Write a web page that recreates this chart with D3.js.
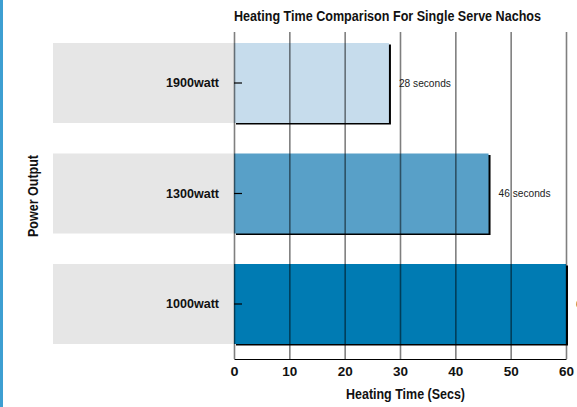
<!DOCTYPE html>
<html>
<head>
<meta charset="utf-8">
<script src="https://cdn.jsdelivr.net/npm/d3@7"></script>
<style>
  html, body { margin: 0; padding: 0; background: #fff; overflow: hidden; }
  svg { display: block; }
  text { font-family: "Liberation Sans Narrow", "Liberation Sans", Arial, sans-serif; }
</style>
</head>
<body>
<svg id="chart" width="577" height="407"></svg>
<script>
// ---- Data ----
const categories = ["1900watt", "1300watt", "1000watt"];
const seconds = [28, 46, 60];
const barColors = ["#c6dcec", "#58a0c8", "#007bb3"];
const valueLabels = ["28 seconds", "46 seconds", "60 seconds"];
const xTicks = [0, 10, 20, 30, 40, 50, 60];
const title = "Heating Time Comparison For Single Serve Nachos";
const xTitle = "Heating Time (Secs)";
const yTitle = "Power Output";

// ---- Layout ----
const W = 577, H = 407;
const plotLeft = 234, plotRight = 566;
const gridTop = 32, axisY = 359;
const bandLeft = 53;
const FONT = '"Liberation Sans Narrow", "Liberation Sans", Arial, sans-serif';

const svg = d3.select("#chart");

const x = d3.scaleLinear().domain([0, 60]).range([plotLeft, plotRight]);
const y = d3.scaleBand().domain(categories).range([43, 344]).paddingInner(0.276).paddingOuter(0);

// left accent strip
svg.append("rect").attr("x", 0).attr("y", 0).attr("width", 3).attr("height", H).attr("fill", "#3d9fd2");

// gray label bands
svg.append("g").selectAll("rect").data(categories).join("rect")
  .attr("x", bandLeft).attr("y", d => y(d))
  .attr("width", plotLeft - bandLeft).attr("height", y.bandwidth())
  .attr("fill", "#e6e6e6");

// bar shadows
svg.append("g").selectAll("rect").data(categories).join("rect")
  .attr("x", x(0) + 2).attr("y", d => y(d) + 1.5)
  .attr("width", (d, i) => x(seconds[i]) - x(0))
  .attr("height", y.bandwidth())
  .attr("fill", "#000");

// bars
svg.append("g").selectAll("rect").data(categories).join("rect")
  .attr("x", x(0)).attr("y", d => y(d))
  .attr("width", (d, i) => x(seconds[i]) - x(0))
  .attr("height", y.bandwidth())
  .attr("fill", (d, i) => barColors[i]);

// vertical gridlines (on top of bars)
const grid = svg.append("g").attr("transform", `translate(0,${axisY})`)
  .call(d3.axisBottom(x).tickValues(xTicks).tickSize(-(axisY - gridTop)).tickFormat(""));
grid.select(".domain").remove();
grid.selectAll(".tick line").attr("stroke", "#000").attr("stroke-opacity", 0.5).attr("stroke-width", 1.6);

// x axis line + labels
const xAxis = svg.append("g").attr("transform", `translate(0,${axisY})`)
  .call(d3.axisBottom(x).tickValues(xTicks).tickSize(0).tickPadding(8));
xAxis.select(".domain").attr("stroke", "#000").attr("stroke-width", 1.2);
xAxis.selectAll(".tick text")
  .attr("font-size", 13).attr("font-weight", "bold").attr("fill", "#111")
  .attr("textLength", d => d === 0 ? 8 : 15).attr("lengthAdjust", "spacingAndGlyphs")
  .style("font-family", FONT);

// y axis (ticks pointing right, labels left)
const yAxis = svg.append("g").attr("transform", `translate(${plotLeft},0)`)
  .call(d3.axisLeft(y).tickSizeInner(-8).tickSizeOuter(0).tickPadding(15));
yAxis.select(".domain").remove();
yAxis.selectAll(".tick line").attr("stroke", "#000").attr("stroke-width", 1.2);
yAxis.selectAll(".tick text")
  .attr("font-size", 13).attr("font-weight", "bold").attr("fill", "#111")
  .attr("textLength", 53).attr("lengthAdjust", "spacingAndGlyphs")
  .style("font-family", FONT);

// value labels
svg.append("g").selectAll("text").data(categories).join("text")
  .attr("x", (d, i) => x(seconds[i]) + 10)
  .attr("y", d => y(d) + y.bandwidth() / 2)
  .attr("dy", "0.35em")
  .attr("font-size", 11).attr("fill", "#222")
  .attr("textLength", 52).attr("lengthAdjust", "spacingAndGlyphs")
  .text((d, i) => valueLabels[i]);

// title
svg.append("text")
  .attr("x", (plotLeft + 541) / 2).attr("y", 21)
  .attr("text-anchor", "middle")
  .attr("font-size", 14).attr("font-weight", "bold").attr("fill", "#111")
  .attr("textLength", 307).attr("lengthAdjust", "spacingAndGlyphs")
  .text(title);

// x title
svg.append("text")
  .attr("x", 405.5).attr("y", 399)
  .attr("text-anchor", "middle")
  .attr("font-size", 14).attr("font-weight", "bold").attr("fill", "#111")
  .attr("textLength", 119).attr("lengthAdjust", "spacingAndGlyphs")
  .text(xTitle);

// y title
svg.append("text")
  .attr("transform", `translate(38,196) rotate(-90)`)
  .attr("text-anchor", "middle")
  .attr("font-size", 14).attr("font-weight", "bold").attr("fill", "#111")
  .attr("textLength", 82).attr("lengthAdjust", "spacingAndGlyphs")
  .text(yTitle);
</script>
</body>
</html>
